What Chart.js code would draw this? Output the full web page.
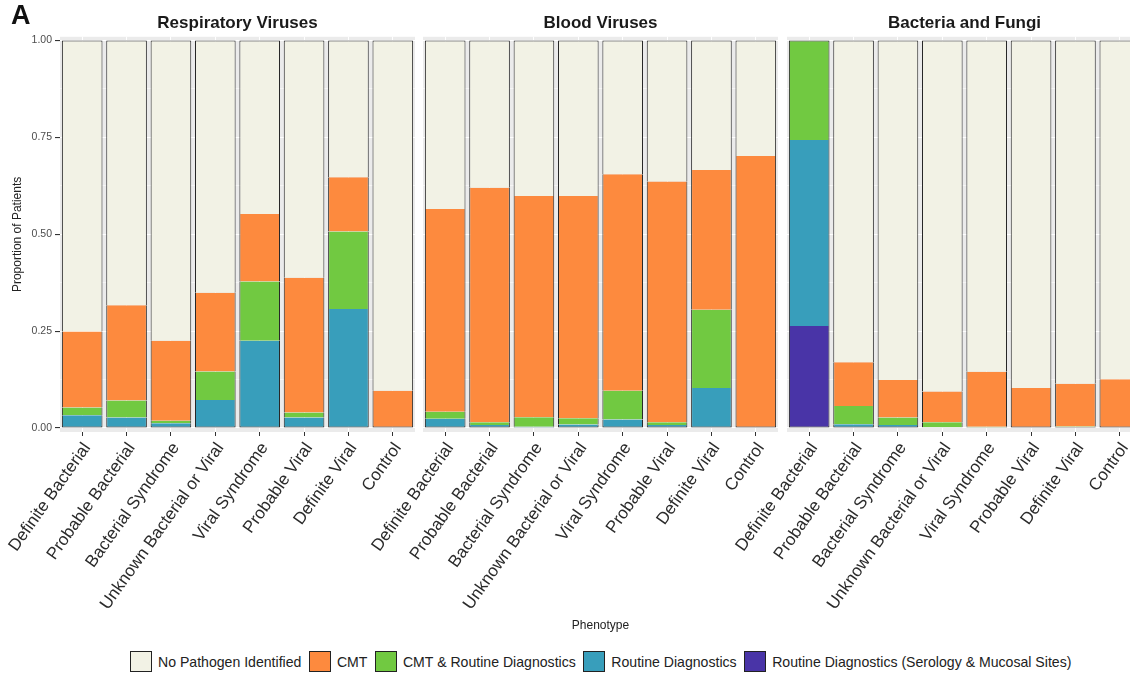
<!DOCTYPE html>
<html>
<head>
<meta charset="utf-8">
<script src="https://cdn.jsdelivr.net/npm/chart.js@4"></script>
<style>
  html, body { margin: 0; padding: 0; background: #fff; overflow: hidden; }
  #wrap { position: relative; width: 1130px; height: 674px; overflow: hidden; font-family: "Liberation Sans", Arial, sans-serif; }
  canvas { position: absolute; top: 0; }
  #tag { position: absolute; left: 11px; top: 0px; font-weight: bold; font-size: 27px; color: #111; }
  #legend { position: absolute; left: 130px; top: 651px; display: flex; align-items: center; font-size: 14.1px; color: #222; white-space: nowrap; }
  #legend .box { width: 20px; height: 19px; border: 1px solid #222; margin-right: 6px; }
  #legend .lab { margin-right: 7.5px; }
</style>
</head>
<body>
<div id="wrap">
  <canvas id="c0" width="435" height="640" style="left:0px"></canvas>
  <canvas id="c1" width="435" height="640" style="left:363px"></canvas>
  <canvas id="c2" width="435" height="640" style="left:727px"></canvas>
  <div id="tag">A</div>
  <div id="legend"></div>
</div>
<script>
// categories
const phenotypes = ['Definite Bacterial', 'Probable Bacterial', 'Bacterial Syndrome', 'Unknown Bacterial or Viral',
  'Viral Syndrome', 'Probable Viral', 'Definite Viral', 'Control'];
const panelTitles = ['Respiratory Viruses', 'Blood Viruses', 'Bacteria and Fungi'];

// series, bottom of the stack first
const seriesNames = ['Routine Diagnostics (Serology & Mucosal Sites)', 'Routine Diagnostics',
  'CMT & Routine Diagnostics', 'CMT', 'No Pathogen Identified'];
const seriesColors = ['#4934A7', '#389EBB', '#71C941', '#FD8A3E', '#F2F2E5'];
const legendOrder = [4, 3, 2, 1, 0];

// Respiratory Viruses
const respSerology  = [0, 0, 0, 0, 0, 0, 0, 0];
const respRoutine   = [0.033, 0.027, 0.012, 0.072, 0.225, 0.027, 0.307, 0];
const respCmtRout   = [0.020, 0.044, 0.007, 0.074, 0.153, 0.013, 0.200, 0];
const respCmt       = [0.196, 0.246, 0.206, 0.203, 0.174, 0.348, 0.140, 0.096];
const respNone      = [0.751, 0.683, 0.775, 0.651, 0.448, 0.612, 0.353, 0.904];

// Blood Viruses
const bloodSerology = [0, 0, 0, 0, 0, 0, 0, 0];
const bloodRoutine  = [0.024, 0.008, 0.003, 0.009, 0.022, 0.008, 0.103, 0];
const bloodCmtRout  = [0.018, 0.007, 0.025, 0.016, 0.074, 0.007, 0.202, 0];
const bloodCmt      = [0.523, 0.605, 0.571, 0.574, 0.559, 0.621, 0.361, 0.702];
const bloodNone     = [0.435, 0.380, 0.401, 0.401, 0.345, 0.364, 0.334, 0.298];

// Bacteria and Fungi
const bactSerology  = [0.263, 0, 0, 0, 0, 0, 0, 0];
const bactRoutine   = [0.480, 0.010, 0.008, 0.002, 0, 0, 0, 0];
const bactCmtRout   = [0.257, 0.047, 0.019, 0.013, 0.003, 0, 0.004, 0];
const bactCmt       = [0, 0.113, 0.097, 0.079, 0.142, 0.103, 0.110, 0.126];
const bactNone      = [0, 0.830, 0.876, 0.906, 0.855, 0.897, 0.886, 0.874];

// y tick labels
const yTicks = [0, 0.25, 0.5, 0.75, 1];
const yMinor = [0.125, 0.375, 0.625, 0.875];

const panelData = [
  [respSerology, respRoutine, respCmtRout, respCmt, respNone],
  [bloodSerology, bloodRoutine, bloodCmtRout, bloodCmt, bloodNone],
  [bactSerology, bactRoutine, bactCmtRout, bactCmt, bactNone]
];

const FONT = '"Liberation Sans", Arial, sans-serif';

// outline only round the whole bar, not between segments
function segBorder(ctx) {
  const ds = ctx.chart.data.datasets;
  const i = ctx.dataIndex, d = ctx.datasetIndex;
  if (!(ds[d].data[i] > 0)) return 0;
  let top = 1, bottom = 1;
  for (let k = d + 1; k < ds.length; k++) if (ds[k].data[i] > 0) top = 0;
  for (let k = 0; k < d; k++) if (ds[k].data[i] > 0) bottom = 0;
  return { left: 1, right: 1, top: top, bottom: bottom };
}

const panelBg = {
  id: 'panelBg',
  beforeDraw(chart) {
    const a = chart.chartArea, c = chart.ctx;
    c.save();
    c.fillStyle = '#EBEBEB';
    c.fillRect(a.left, a.top, a.right - a.left, a.bottom - a.top);
    c.restore();
  }
};

panelData.forEach((rows, p) => {
  const first = p === 0;
  new Chart(document.getElementById('c' + p), {
    type: 'bar',
    data: {
      labels: phenotypes,
      datasets: rows.map((vals, s) => ({
        label: seriesNames[s],
        data: vals,
        backgroundColor: seriesColors[s],
        borderColor: '#262626',
        borderWidth: segBorder,
        borderSkipped: false,
        inflateAmount: 0,
        barPercentage: 0.915,
        categoryPercentage: 1
      }))
    },
    options: {
      responsive: false,
      animation: false,
      devicePixelRatio: 1,
      layout: { padding: { left: 0, right: 20, top: 0, bottom: 0 } },
      plugins: {
        legend: { display: false },
        tooltip: { enabled: false },
        title: {
          display: true, text: panelTitles[p], fullSize: false,
          color: '#1a1a1a', font: { family: FONT, size: 17, weight: 'bold' },
          padding: { top: 12.8, bottom: 3.6 }
        }
      },
      scales: {
        x: {
          stacked: true,
          grid: { color: '#ffffff', lineWidth: 1, offset: false, tickLength: 4, tickColor: '#333', drawTicks: true },
          border: { display: false },
          ticks: {
            autoSkip: false, minRotation: 54.5, maxRotation: 54.5, padding: 3, labelOffset: 5,
            color: '#2b2b2b', font: { family: FONT, size: 17 }
          },
          title: {
            display: p === 1, text: 'Phenotype', color: '#222',
            font: { family: FONT, size: 12 }, padding: { top: 0, bottom: 6.8 }
          },
          afterFit(scale) { scale.height = 208; scale.paddingLeft = 0; scale.paddingRight = 0; }
        },
        y: {
          stacked: true,
          min: -0.0103, max: 1.0096,
          afterBuildTicks(scale) {
            scale.ticks = yTicks.concat(yMinor).sort((a, b) => a - b).map(v => ({ value: v }));
          },
          grid: {
            color: '#ffffff',
            lineWidth: c => yTicks.includes(c.tick.value) ? 1.1 : 0.55,
            tickLength: 5,
            tickColor: c => (first && yTicks.includes(c.tick.value)) ? '#333' : 'rgba(0,0,0,0)'
          },
          border: { display: false },
          ticks: {
            padding: 3,
            color: first ? '#4D4D4D' : 'rgba(0,0,0,0)',
            font: { family: FONT, size: 10.5 },
            callback: v => yTicks.includes(v) ? v.toFixed(2) : ''
          },
          title: {
            display: first, text: 'Proportion of Patients', color: '#222',
            font: { family: FONT, size: 12 }, padding: { top: 10.8, bottom: 0 }
          },
          afterFit(scale) { scale.width = 60; }
        }
      }
    },
    plugins: [panelBg]
  });
});

// legend
const leg = document.getElementById('legend');
legendOrder.forEach(s => {
  const b = document.createElement('span');
  b.className = 'box';
  b.style.background = seriesColors[s];
  const t = document.createElement('span');
  t.className = 'lab';
  t.textContent = seriesNames[s];
  leg.appendChild(b);
  leg.appendChild(t);
});
</script>
</body>
</html>
